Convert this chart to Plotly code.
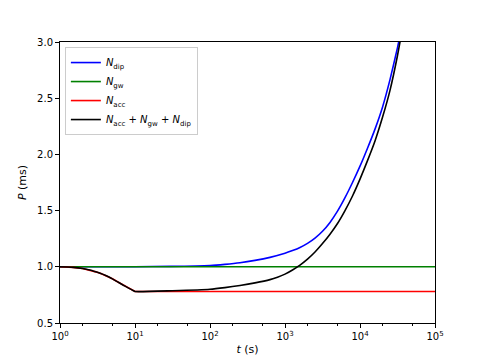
import plotly.graph_objects as go

# tempi (s) e periodi (ms)
t_acc = [1, 1.25, 1.5, 2, 2.5, 3, 3.5, 4, 4.5, 5, 6, 7, 8, 9, 9.5, 10, 100000]
p_acc = [1.0, 0.998, 0.995, 0.985, 0.971, 0.955, 0.94, 0.925, 0.909, 0.893, 0.862, 0.836, 0.815, 0.797, 0.788, 0.78, 0.78]

t_gw = [1, 100000]
p_gw = [1.0, 1.0]

t_dip = [1, 10, 30, 100, 158, 251, 398, 631, 1000, 1259, 1585, 1995, 2512, 3162, 3981, 5012,
         6310, 7943, 10000, 12589, 15849, 19953, 25119, 31623, 39811]
p_dip = [1.0, 1.001, 1.004, 1.012, 1.022, 1.036, 1.057, 1.084, 1.12, 1.144, 1.172, 1.208, 1.255, 1.316, 1.395, 1.495,
         1.615, 1.75, 1.895, 2.055, 2.225, 2.42, 2.665, 2.95, 3.28]

t_tot = [1, 1.25, 1.5, 2, 2.5, 3, 3.5, 4, 4.5, 5, 6, 7, 8, 9, 9.5, 10, 31.6, 100, 158, 251, 398, 631, 794,
         1000, 1259, 1585, 1995, 2512, 3162, 3981, 5012, 6310, 7943, 10000, 12589, 15849, 19953, 25119, 31623, 39811]
p_tot = [1.0, 0.998, 0.995, 0.985, 0.971, 0.955, 0.94, 0.925, 0.909, 0.893, 0.862, 0.836, 0.815, 0.797, 0.788, 0.78,
         0.787, 0.80, 0.815, 0.834, 0.857, 0.886, 0.907, 0.935, 0.972, 1.015, 1.068, 1.132, 1.207, 1.29, 1.385,
         1.50, 1.63, 1.78, 1.945, 2.12, 2.33, 2.57, 2.88, 3.25]

x_tickvals = [1, 10, 100, 1000, 10000, 100000]
x_ticktext = ["10<sup>0</sup>", "10<sup>1</sup>", "10<sup>2</sup>", "10<sup>3</sup>", "10<sup>4</sup>", "10<sup>5</sup>"]
y_tickvals = [0.5, 1.0, 1.5, 2.0, 2.5, 3.0]

series = [
    (t_dip, p_dip, "<i>N</i><sub>dip</sub>", "blue", "spline"),
    (t_gw, p_gw, "<i>N</i><sub>gw</sub>", "green", "linear"),
    (t_acc, p_acc, "<i>N</i><sub>acc</sub>", "red", "linear"),
    (t_tot, p_tot, "<i>N</i><sub>acc</sub> + <i>N</i><sub>gw</sub> + <i>N</i><sub>dip</sub>", "black", "spline"),
]

fig = go.Figure()
for t, p, name, col, shp in series:
    line = dict(color=col, width=1.6, shape=shp)
    if shp == "spline":
        line["smoothing"] = 0.5
    fig.add_trace(go.Scatter(x=t, y=p, mode="lines", name=name, line=line))

# la pagina ha un margine di 8px sul body: lo compensiamo qui
fig.update_layout(
    width=484, height=363,
    margin=dict(l=52, r=57, t=34, b=48),
    paper_bgcolor="white", plot_bgcolor="white",
    font=dict(family="DejaVu Sans", size=10, color="black"),
    legend=dict(x=0.013, y=0.982, xanchor="left", yanchor="top",
                bgcolor="rgba(255,255,255,0.8)", bordercolor="#cccccc", borderwidth=1,
                font=dict(size=10), tracegroupgap=0, itemwidth=30),
    showlegend=True,
)
fig.update_xaxes(
    type="log", range=[0, 5], automargin=False,
    tickvals=x_tickvals, ticktext=x_ticktext,
    ticks="outside", ticklen=4, tickcolor="black",
    minor=dict(ticks="outside", ticklen=2, tickcolor="black", showgrid=False),
    showline=True, linecolor="black", linewidth=1, mirror=True,
    showgrid=False, zeroline=False,
    title=dict(text="<i>t</i> (s)", standoff=4, font=dict(size=11)),
)
fig.update_yaxes(
    range=[0.5, 3.0], automargin=False,
    tickvals=y_tickvals, tickformat=".1f",
    ticks="outside", ticklen=4, tickcolor="black",
    showline=True, linecolor="black", linewidth=1, mirror=True,
    showgrid=False, zeroline=False,
    title=dict(text="<i>P</i> (ms)", standoff=8, font=dict(size=11)),
)

fig.write_html("out.html")
